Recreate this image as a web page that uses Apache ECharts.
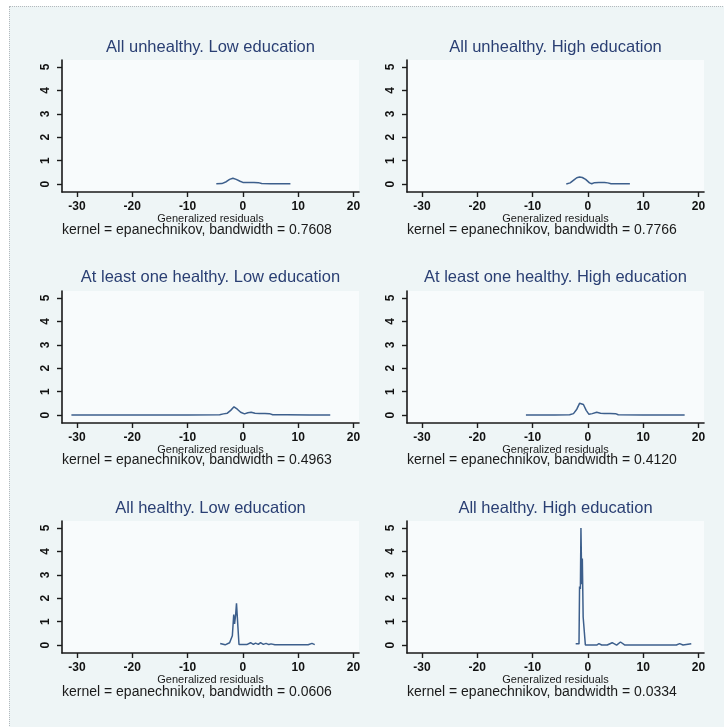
<!DOCTYPE html>
<html><head><meta charset="utf-8">
<script src="https://cdn.jsdelivr.net/npm/echarts@6/dist/echarts.min.js"></script>
<style>
html,body{margin:0;padding:0;background:#fff;width:724px;height:727px;overflow:hidden;}
#frame{position:absolute;left:9px;top:6px;width:715px;height:721px;background:#eef5f6;border-top:1px dotted #b4b9bd;border-left:1px dotted #b4b9bd;}
#chart{position:absolute;left:0;top:0;width:724px;height:727px;}
</style></head><body>
<div id="frame"></div><div id="chart"></div>
<script>
// ---- data ----
const panelTitles = [
  "All unhealthy. Low education", "All unhealthy. High education",
  "At least one healthy. Low education", "At least one healthy. High education",
  "All healthy. Low education", "All healthy. High education"
];
const bandwidths = ["0.7608", "0.7766", "0.4963", "0.4120", "0.0606", "0.0334"];
const xTickValues = [-30, -20, -10, 0, 10, 20];
const yTickValues = [0, 1, 2, 3, 4, 5];
const xAxisTitle = "Generalized residuals";

const x1 = [-4.8,-3.8,-3,-2.4,-1.8,-1.2,-0.5,0,1,2,2.8,3.4,5,7,8.6];
const y1 = [0.01,0.02,0.1,0.2,0.25,0.2,0.12,0.07,0.07,0.07,0.06,0.02,0.01,0.01,0.01];

const x2 = [-3.9,-3.2,-2.5,-2,-1.5,-1,-0.4,0.3,0.7,1.2,2,3,3.6,4.2,6,7.6];
const y2 = [0.0,0.05,0.18,0.27,0.3,0.28,0.2,0.05,0.01,0.06,0.07,0.07,0.05,0.01,0.01,0.01];

const x3 = [-31,-20,-10,-4.2,-3.5,-2.8,-2.2,-1.6,-1,-0.4,0.3,0.9,1.5,2.2,3,4,4.8,5.4,8,12,15.8];
const y3 = [0,0,0,0.01,0.05,0.08,0.2,0.35,0.25,0.12,0.05,0.1,0.12,0.08,0.07,0.07,0.06,0.01,0.01,0,0];

const x4 = [-11.2,-6,-3.3,-2.6,-2,-1.5,-1.2,-0.8,-0.3,0.2,0.8,1.6,2.3,3,4,5,5.5,10,17.5];
const y4 = [0,0,0.01,0.06,0.25,0.5,0.56,0.45,0.2,0.03,0.06,0.12,0.08,0.07,0.07,0.06,0.01,0,0];

const x5 = [-4.1,-3.2,-2.4,-1.9,-1.65,-1.5,-1.3,-1.15,-0.9,-0.7,0,0.7,1.4,1.9,2.3,2.8,3.2,3.7,4.2,4.7,5.1,5.8,8,11.8,12.5,13];
const y5 = [0.07,0.01,0.1,0.4,1.3,0.9,1.3,1.78,0.8,0.02,0.02,0.02,0.1,0.03,0.08,0.03,0.1,0.03,0.07,0.02,0.05,0.01,0.01,0.01,0.07,0.02];

const x6 = [-2.2,-1.6,-1.5,-1.35,-1.25,-1.1,-1.0,-0.85,-0.7,-0.45,0,1.6,2,2.5,3.5,4.4,5.2,5.9,6.7,10,16,16.6,17.2,18.7];
const y6 = [0.05,0.05,2.5,2.4,5.0,2.6,3.7,1.2,1.2,0.0,0.0,0.0,0.06,0.0,0.0,0.1,0.0,0.13,0.0,0.0,0.0,0.06,0.0,0.06];

const xs = [x1, x2, x3, x4, x5, x6];
const ys = [y1, y2, y3, y4, y5, y6];

// ---- layout ----
const colLeft = [62, 407];
const rowTop = [60, 291, 521];
const gridW = 297, gridH = 132;
const titleTop = [39, 269, 500];
const noteTop = [223, 453, 685];
const FONT = "Liberation Sans, Arial, sans-serif";

const grids = [], xAxes = [], yAxes = [], series = [], titles = [];
for (let i = 0; i < 6; i++) {
  const c = i % 2, r = Math.floor(i / 2);
  grids.push({left: colLeft[c], top: rowTop[r], width: gridW, height: gridH,
    show: true, backgroundColor: '#f8fbfc', borderWidth: 0});
  xAxes.push({
    type: 'value', gridIndex: i, min: -32.7, max: 21,
    axisLine: {show: true, onZero: false, lineStyle: {color: '#1a1a1a', width: 1.6}},
    axisTick: {show: true, length: 5, lineStyle: {color: '#1a1a1a', width: 1.4}, customValues: xTickValues},
    axisLabel: {customValues: xTickValues, margin: 9, color: '#111', fontSize: 12, fontWeight: 'bold', fontFamily: FONT},
    splitLine: {show: false},
    name: xAxisTitle, nameLocation: 'middle', nameGap: 19,
    nameTextStyle: {color: '#1a1a1a', fontSize: 11, fontFamily: FONT}
  });
  yAxes.push({
    type: 'value', gridIndex: i, min: -0.34, max: 5.3,
    axisLine: {show: true, onZero: false, lineStyle: {color: '#1a1a1a', width: 1.6}},
    axisTick: {show: true, length: 5, lineStyle: {color: '#1a1a1a', width: 1.4}, customValues: yTickValues},
    axisLabel: {customValues: yTickValues, rotate: 90, margin: 10, color: '#111', fontSize: 12, fontWeight: 'bold', fontFamily: FONT},
    splitLine: {show: false}
  });
  series.push({
    type: 'line', xAxisIndex: i, yAxisIndex: i, showSymbol: false, symbol: 'none',
    lineStyle: {color: '#3d5f8c', width: 1.5}, animation: false,
    data: xs[i].map((v, k) => [v, ys[i][k]])
  });
  titles.push({
    text: panelTitles[i], left: colLeft[c] + gridW / 2, top: titleTop[r], textAlign: 'center', padding: 0,
    textStyle: {color: '#2a3f73', fontSize: 16.5, fontWeight: 'normal', fontFamily: FONT}
  });
  titles.push({
    text: 'kernel = epanechnikov, bandwidth = ' + bandwidths[i], left: colLeft[c], top: noteTop[r], padding: 0,
    textStyle: {color: '#1a1a1a', fontSize: 14, fontWeight: 'normal', fontFamily: FONT}
  });
}

const chart = echarts.init(document.getElementById('chart'), null, {renderer: 'canvas'});
chart.setOption({
  backgroundColor: 'transparent',
  animation: false,
  title: titles,
  grid: grids,
  xAxis: xAxes,
  yAxis: yAxes,
  series: series
});
</script></body></html>
